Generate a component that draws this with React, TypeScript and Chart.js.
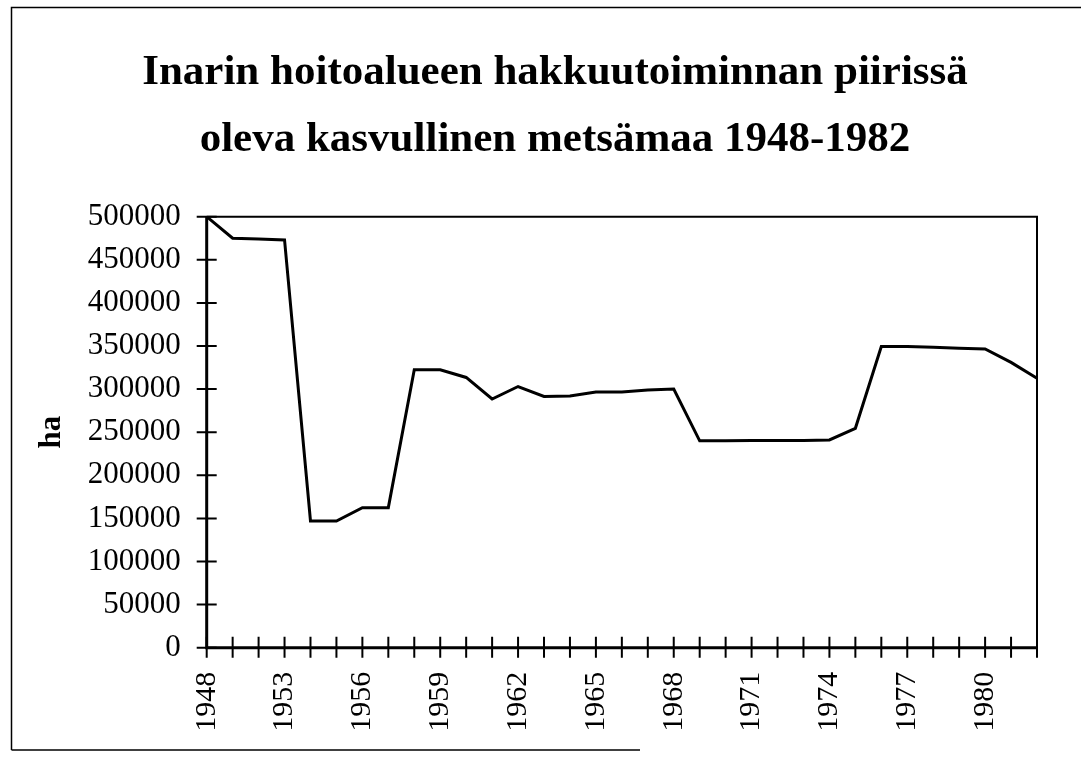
import React, { useEffect, useRef } from 'react';
import { Chart, registerables } from 'chart.js';

Chart.register(...registerables);

const titleLines: string[] = [
  'Inarin hoitoalueen hakkuutoiminnan piirissä',
  'oleva kasvullinen metsämaa 1948-1982',
];
const yAxisTitle = 'ha';

const years: string[] = [
  '1948', '1950', '1952', '1953', '1954', '1955', '1956', '1957', '1958', '1959',
  '1960', '1961', '1962', '1963', '1964', '1965', '1966', '1967', '1968', '1969',
  '1970', '1971', '1972', '1973', '1974', '1975', '1976', '1977', '1978', '1979',
  '1980', '1981', '1982',
];

const areaHa: number[] = [
  500000, 475000, 474000, 473000, 147000, 147000, 162500, 162500, 322500, 322500,
  313500, 288500, 303000, 291500, 292000, 296500, 296500, 299000, 300000, 240000,
  240000, 240500, 240500, 240500, 241000, 254500, 349500, 349500, 348500, 347500,
  346500, 331000, 312500,
];

const shownYearLabels: string[] = [
  '1948', '1953', '1956', '1959', '1962', '1965', '1968', '1971', '1974', '1977', '1980',
];

const yMin = 0;
const yMax = 500000;
const yStep = 50000;

const SERIF = '"Liberation Serif", "Times New Roman", serif';

const decorPlugin = {
  id: 'decor',
  afterDraw(chart: any) {
    const { ctx, chartArea, scales } = chart;
    const { left, right, top, bottom } = chartArea;
    const x = scales.x;
    const y = scales.y;
    ctx.save();
    ctx.strokeStyle = '#000';
    ctx.fillStyle = '#000';

    // outer frame (scanned page frame)
    ctx.lineWidth = 1.5;
    ctx.beginPath();
    ctx.moveTo(11.5, 750);
    ctx.lineTo(11.5, 7.5);
    ctx.lineTo(1081, 7.5);
    ctx.stroke();
    ctx.beginPath();
    ctx.moveTo(11.5, 750);
    ctx.lineTo(640, 750);
    ctx.stroke();

    // plot frame top + right
    ctx.lineWidth = 2;
    ctx.beginPath();
    ctx.moveTo(left, top);
    ctx.lineTo(right, top);
    ctx.lineTo(right, bottom);
    ctx.stroke();

    // axes
    ctx.lineWidth = 3;
    ctx.beginPath();
    ctx.moveTo(left, top);
    ctx.lineTo(left, bottom);
    ctx.lineTo(right, bottom);
    ctx.stroke();

    // cross tick marks
    ctx.lineWidth = 2;
    ctx.beginPath();
    x.ticks.forEach((_: any, i: number) => {
      const px = x.getPixelForTick(i);
      ctx.moveTo(px, bottom - 11);
      ctx.lineTo(px, bottom + 10);
    });
    y.ticks.forEach((_: any, i: number) => {
      const py = y.getPixelForTick(i);
      ctx.moveTo(left - 10, py);
      ctx.lineTo(left + 10, py);
    });
    ctx.stroke();

    // title
    ctx.font = `bold 43px ${SERIF}`;
    ctx.textAlign = 'center';
    ctx.textBaseline = 'alphabetic';
    ctx.fillText(titleLines[0], 555, 84);
    ctx.fillText(titleLines[1], 555, 151);
    ctx.restore();
  },
};

export default function App() {
  const canvasRef = useRef<HTMLCanvasElement | null>(null);

  useEffect(() => {
    if (!canvasRef.current) return;
    const chart = new Chart(canvasRef.current, {
      type: 'line',
      data: {
        labels: years,
        datasets: [
          {
            data: areaHa,
            borderColor: '#000',
            backgroundColor: '#000',
            borderWidth: 3,
            pointRadius: 0,
            tension: 0,
            fill: false,
          },
        ],
      },
      options: {
        animation: false,
        responsive: false,
        devicePixelRatio: 1,
        layout: { padding: { top: 216.7, right: 44, left: 0, bottom: 0 } },
        plugins: {
          legend: { display: false },
          title: { display: false },
          tooltip: { enabled: false },
        },
        scales: {
          x: {
            type: 'category',
            offset: false,
            grid: { display: false, drawTicks: false },
            border: { display: false },
            ticks: {
              autoSkip: false,
              minRotation: 90,
              maxRotation: 90,
              padding: 24,
              color: '#000',
              font: { family: SERIF, size: 30 },
              callback: function (this: any, _v: any, index: number) {
                const lab = years[index];
                return shownYearLabels.includes(lab) ? lab : '';
              },
            },
            afterFit: (s: any) => {
              s.height = 112.3;
              s.paddingLeft = 0;
              s.paddingRight = 0;
            },
          },
          y: {
            min: yMin,
            max: yMax,
            grid: { display: false, drawTicks: false },
            border: { display: false },
            ticks: {
              stepSize: yStep,
              padding: 26,
              color: '#000',
              font: { family: SERIF, size: 31 },
              callback: (v: any) => String(v),
            },
            title: {
              display: true,
              text: yAxisTitle,
              color: '#000',
              font: { family: SERIF, size: 31, weight: 'bold' },
              padding: { top: 33, bottom: 0 },
            },
            afterFit: (s: any) => {
              s.width = 206.7;
            },
          },
        },
      },
      plugins: [decorPlugin],
    });
    return () => chart.destroy();
  }, []);

  return (
    <div
      style={{
        position: 'fixed',
        left: 0,
        top: 0,
        width: 1081,
        height: 760,
        background: '#fff',
      }}
    >
      <canvas ref={canvasRef} width={1081} height={760} style={{ display: 'block' }} />
    </div>
  );
}
